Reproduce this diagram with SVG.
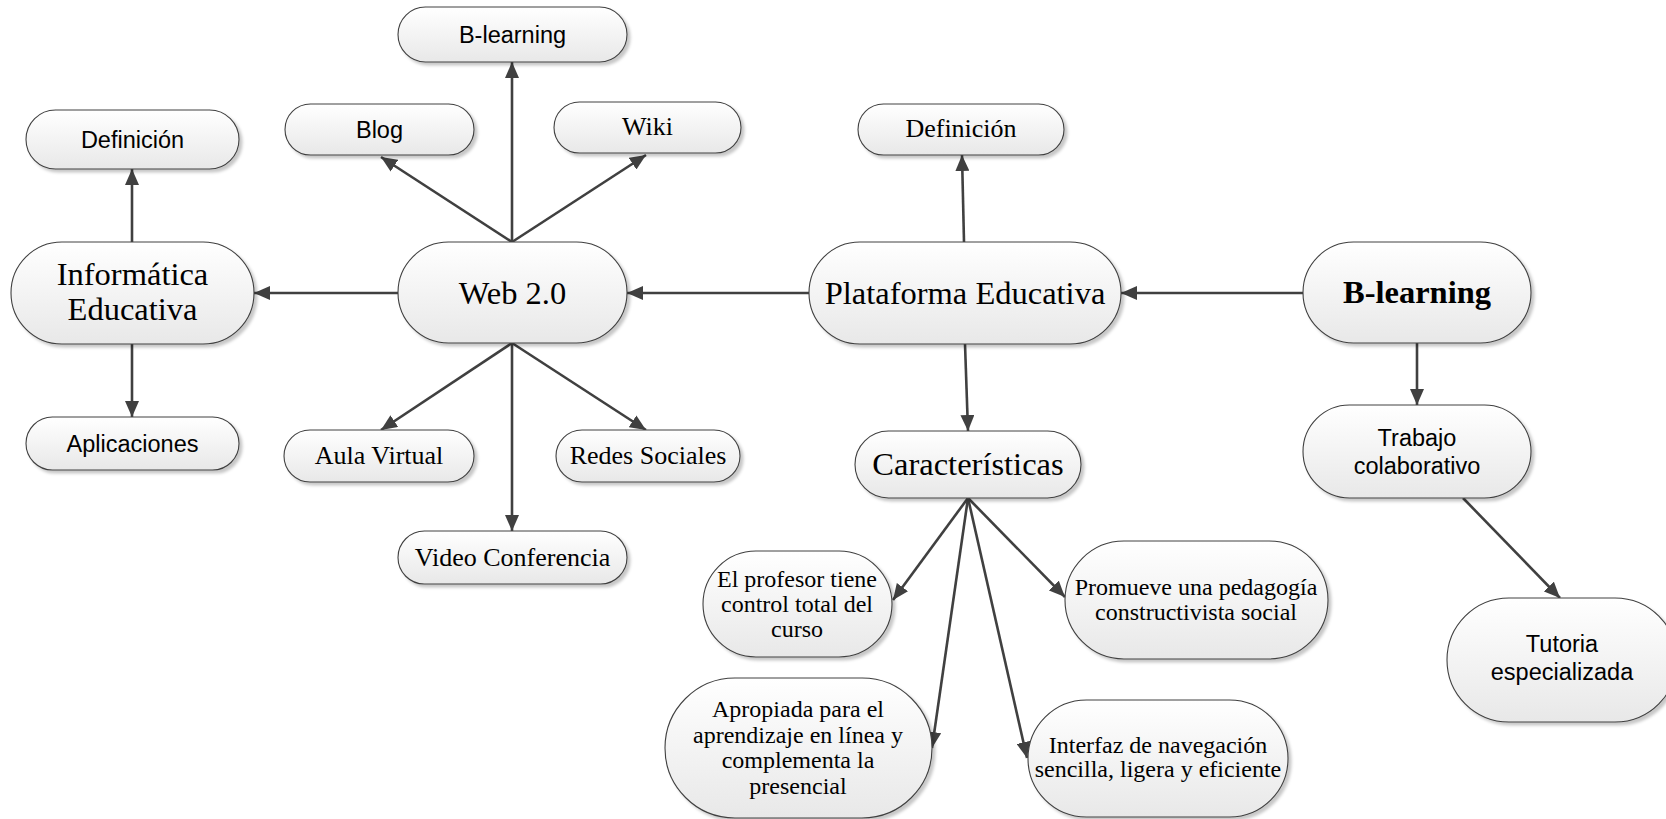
<svg xmlns="http://www.w3.org/2000/svg" width="1666" height="819" viewBox="0 0 1666 819">
<defs>
<linearGradient id="g" x1="0" y1="0" x2="0" y2="1">
<stop offset="0" stop-color="#ffffff"/>
<stop offset="1" stop-color="#e8e8e8"/>
</linearGradient>
<filter id="sh" x="-10%" y="-10%" width="130%" height="140%">
<feDropShadow dx="3" dy="3" stdDeviation="1.5" flood-color="#000" flood-opacity="0.22"/>
</filter>
<marker id="ah" viewBox="0 0 16 14" refX="16" refY="7" markerWidth="16" markerHeight="14" markerUnits="userSpaceOnUse" orient="auto">
<path d="M0,0 L16,7 L0,14 z" fill="#404040"/>
</marker>
</defs>
<style>
.n{fill:url(#g);stroke:#404040;stroke-width:1.1;filter:url(#sh)}
.c line{stroke:#404040;stroke-width:2.6;marker-end:url(#ah)}
.s{font-family:"Liberation Sans",Arial,sans-serif;font-size:23.5px;fill:#000;text-anchor:middle}
.t{font-family:"Liberation Serif","Times New Roman",serif;fill:#000;text-anchor:middle}
.L{font-size:32.5px}
.M{font-size:26px}
.S{font-size:24px}
.B{font-weight:bold}
</style>
<rect width="1666" height="819" fill="#ffffff"/>
<g class="c" id="connectors">
<line x1="398" y1="293" x2="254" y2="293"/>
<line x1="132" y1="242" x2="132" y2="169"/>
<line x1="132" y1="344" x2="132" y2="417"/>
<line x1="512" y1="242" x2="381" y2="157"/>
<line x1="512" y1="242" x2="512" y2="62"/>
<line x1="512" y1="242" x2="646" y2="155"/>
<line x1="512" y1="343" x2="381" y2="430"/>
<line x1="512" y1="343" x2="646" y2="430"/>
<line x1="512" y1="343" x2="512" y2="531"/>
<line x1="809" y1="293" x2="627" y2="293"/>
<line x1="964" y1="242" x2="962" y2="155"/>
<line x1="965" y1="344" x2="968" y2="431"/>
<line x1="1303" y1="293" x2="1121" y2="293"/>
<line x1="1417" y1="343" x2="1417" y2="405"/>
<line x1="1463" y1="498" x2="1560" y2="598"/>
<line x1="968" y1="498" x2="893" y2="600"/>
<line x1="968" y1="498" x2="932" y2="748"/>
<line x1="968" y1="498" x2="1027" y2="758"/>
<line x1="968" y1="498" x2="1065" y2="597"/>
</g>
<g id="def1"><rect class="n" x="26" y="110" width="213" height="59" rx="29.5"/><text class="s" x="132.5" y="147.5">Definición</text></g>
<g id="blog"><rect class="n" x="285" y="104" width="189" height="51" rx="25.5"/><text class="s" x="379.5" y="137.5">Blog</text></g>
<g id="blearning-top"><rect class="n" x="398" y="7" width="229" height="55" rx="27.5"/><text class="s" x="512.5" y="42.5">B-learning</text></g>
<g id="wiki"><rect class="n" x="554" y="102" width="187" height="51" rx="25.5"/><text class="t M" x="647.5" y="135">Wiki</text></g>
<g id="informatica"><rect class="n" x="11" y="242" width="243" height="102" rx="51"/><text class="t L" x="132.5" y="285">Informática</text><text class="t L" x="132.5" y="320">Educativa</text></g>
<g id="web20"><rect class="n" x="398" y="242" width="229" height="101" rx="50.5"/><text class="t L" x="512.5" y="304">Web 2.0</text></g>
<g id="plataforma"><rect class="n" x="809" y="242" width="312" height="102" rx="51"/><text class="t L" x="965" y="304">Plataforma Educativa</text></g>
<g id="blearning"><rect class="n" x="1303" y="242" width="228" height="101" rx="50.5"/><text class="t L B" x="1417" y="303">B-learning</text></g>
<g id="def2"><rect class="n" x="858" y="104" width="206" height="51" rx="25.5"/><text class="t M" x="961" y="137">Definición</text></g>
<g id="aplicaciones"><rect class="n" x="26" y="417" width="213" height="53" rx="26.5"/><text class="s" x="132.5" y="451.5">Aplicaciones</text></g>
<g id="aula"><rect class="n" x="284" y="430" width="190" height="52" rx="26"/><text class="t M" x="379" y="464">Aula Virtual</text></g>
<g id="redes"><rect class="n" x="556" y="430" width="184" height="52" rx="26"/><text class="t M" x="648" y="464">Redes Sociales</text></g>
<g id="video"><rect class="n" x="398" y="531" width="229" height="53" rx="26.5"/><text class="t M" x="512.5" y="566">Video Conferencia</text></g>
<g id="caracteristicas"><rect class="n" x="855" y="431" width="226" height="67" rx="33.5"/><text class="t L" x="968" y="475">Características</text></g>
<g id="trabajo"><rect class="n" x="1303" y="405" width="228" height="93" rx="46.5"/><text class="s" x="1417" y="446">Trabajo</text><text class="s" x="1417" y="474">colaborativo</text></g>
<g id="tutoria"><rect class="n" x="1447" y="598" width="230" height="124" rx="62"/><text class="s" x="1562" y="652">Tutoria</text><text class="s" x="1562" y="680">especializada</text></g>
<g id="profesor"><rect class="n" x="703" y="551" width="189" height="106" rx="53"/><text class="t S" x="797" y="587">El profesor tiene</text><text class="t S" x="797" y="612">control total del</text><text class="t S" x="797" y="637">curso</text></g>
<g id="promueve"><rect class="n" x="1065" y="541" width="263" height="118" rx="59"/><text class="t S" x="1196" y="595">Promueve una pedagogía</text><text class="t S" x="1196" y="620">constructivista social</text></g>
<g id="apropiada"><rect class="n" x="665" y="678" width="267" height="140" rx="70"/><text class="t S" x="798" y="717">Apropiada para el</text><text class="t S" x="798" y="742.5">aprendizaje en línea y</text><text class="t S" x="798" y="768">complementa la</text><text class="t S" x="798" y="793.5">presencial</text></g>
<g id="interfaz"><rect class="n" x="1028" y="700" width="260" height="117" rx="58.5"/><text class="t S" x="1158" y="753">Interfaz de navegación</text><text class="t S" x="1158" y="777">sencilla, ligera y eficiente</text></g>
</svg>
